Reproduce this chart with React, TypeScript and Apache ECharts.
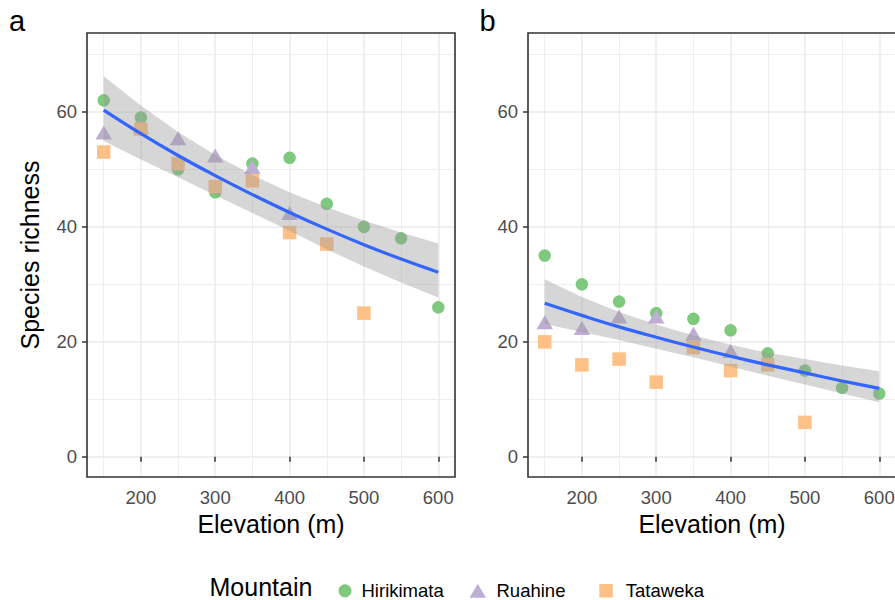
import React, { useEffect, useRef } from 'react';
import * as echarts from 'echarts';

// ---- data ----
const elevation = [150, 200, 250, 300, 350, 400, 450, 500, 550, 600];

// panel a
const hirikimataA = [62, 59, 50, 46, 51, 52, 44, 40, 38, 26];
const ruahineA = [56, 57, 55, 52, 50, 42];
const tatawekaA = [53, 57, 51, 47, 48, 39, 37, 25];
const fitA = [60.3, 56.2, 52.4, 48.9, 45.6, 42.5, 39.6, 36.9, 34.4, 32.1];
const upperA = [66.2, 61.1, 56.5, 52.5, 49.0, 46.0, 43.4, 41.1, 39.0, 37.1];
const lowerA = [54.9, 51.7, 48.6, 45.5, 42.4, 39.3, 36.1, 33.1, 30.3, 27.7];

// panel b
const hirikimataB = [35, 30, 27, 25, 24, 22, 18, 15, 12, 11];
const ruahineB = [23, 22, 24, 24, 21, 18];
const tatawekaB = [20, 16, 17, 13, 19, 15, 16, 6];
const fitB = [26.7, 24.6, 22.6, 20.8, 19.1, 17.5, 16.0, 14.6, 13.2, 11.9];
const upperB = [30.9, 27.8, 25.2, 23.0, 21.1, 19.5, 18.1, 17.0, 15.9, 14.9];
const lowerB = [23.1, 21.7, 20.3, 18.8, 17.3, 15.7, 14.1, 12.6, 11.0, 9.5];

const xTicks = [200, 300, 400, 500, 600];
const yTicks = [0, 20, 40, 60];
const mountains = ['Hirikimata', 'Ruahine', 'Tataweka'];
const panelTags = ['a', 'b'];

const COLORS = { Hirikimata: '#7FC97F', Ruahine: '#BEAED4', Tataweka: '#FDC086' };
const FONT = '"Liberation Sans", Arial, Helvetica, sans-serif';

const GRID_TOP = 33;
const GRID_H = 444;
const GRID_W = 368;
const GRID_LEFTS = [87, 528];

function pts(vals: number[]) {
  return vals.map((v, i) => [elevation[i], v]);
}

function makeAxes(gi: number) {
  const x = {
    type: 'value',
    gridIndex: gi,
    min: 127.5,
    max: 622.5,
    axisLine: { show: false },
    axisTick: { show: true, length: 5, lineStyle: { color: '#333333', width: 1.5 }, customValues: xTicks },
    axisLabel: {
      customValues: xTicks,
      color: '#4d4d4d',
      fontSize: 18.5,
      fontFamily: FONT,
      margin: 10.5,
    },
    splitLine: { show: true, lineStyle: { color: '#ebebeb', width: 1.5 } },
    minorTick: { show: false, splitNumber: 2 },
    minorSplitLine: { show: true, lineStyle: { color: '#ebebeb', width: 0.8 } },
    name: 'Elevation (m)',
    nameLocation: 'middle',
    nameGap: 31.5,
    nameTextStyle: { fontSize: 25, color: '#000000', fontFamily: FONT },
  };
  const y: any = {
    type: 'value',
    gridIndex: gi,
    min: -3.5,
    max: 73.7,
    axisLine: { show: false },
    axisTick: { show: true, length: 5, lineStyle: { color: '#333333', width: 1.5 }, customValues: yTicks },
    axisLabel: {
      customValues: yTicks,
      color: '#4d4d4d',
      fontSize: 18.5,
      fontFamily: FONT,
      margin: 10,
    },
    splitLine: { show: true, lineStyle: { color: '#ebebeb', width: 1.5 } },
    minorTick: { show: false, splitNumber: 2 },
    minorSplitLine: { show: true, lineStyle: { color: '#ebebeb', width: 0.8 } },
  };
  if (gi === 0) {
    y.name = 'Species richness';
    y.nameLocation = 'middle';
    y.nameGap = 45;
    y.nameTextStyle = { fontSize: 25, color: '#000000', fontFamily: FONT };
  }
  return { x, y };
}

function pointSeries(gi: number, name: string, vals: number[]) {
  const base: any = {
    type: 'scatter',
    name,
    xAxisIndex: gi,
    yAxisIndex: gi,
    data: pts(vals),
    z: 2,
    silent: true,
    itemStyle: { color: (COLORS as any)[name], opacity: 1 },
  };
  if (name === 'Hirikimata') {
    base.symbol = 'circle';
    base.symbolSize = 12.5;
  } else if (name === 'Ruahine') {
    base.symbol = 'triangle';
    base.symbolSize = [16.5, 14];
    base.symbolOffset = [0, -2.3];
  } else {
    base.symbol = 'rect';
    base.symbolSize = 13.5;
  }
  return base;
}

function ribbonSeries(gi: number, lo: number[], hi: number[]) {
  return {
    type: 'custom',
    name: 'ci' + gi,
    xAxisIndex: gi,
    yAxisIndex: gi,
    z: 3,
    silent: true,
    clip: true,
    data: [[elevation[0], lo[0]]],
    renderItem: (_params: any, api: any) => {
      const top = elevation.map((x, i) => api.coord([x, hi[i]]));
      const bottom = elevation.map((x, i) => api.coord([x, lo[i]])).reverse();
      return {
        type: 'polygon',
        shape: { points: top.concat(bottom) },
        style: { fill: 'rgba(153,153,153,0.4)' },
      };
    },
  };
}

function fitSeries(gi: number, vals: number[]) {
  return {
    type: 'line',
    name: 'fit' + gi,
    xAxisIndex: gi,
    yAxisIndex: gi,
    z: 4,
    silent: true,
    smooth: 0.4,
    showSymbol: false,
    symbol: 'none',
    data: pts(vals),
    lineStyle: { color: '#3366FF', width: 3.2 },
  };
}

export default function App() {
  const ref = useRef<HTMLDivElement>(null);
  useEffect(() => {
    document.body.style.margin = '0';
    if (!ref.current) return;
    const chart = echarts.init(ref.current, null, { renderer: 'svg' });
    const axA = makeAxes(0);
    const axB = makeAxes(1);
    const legendCommon = {
      orient: 'horizontal',
      top: 576.3,
      selectedMode: false,
      textStyle: { fontSize: 18.5, color: '#000000', fontFamily: FONT },
    };
    const option: any = {
      animation: false,
      backgroundColor: '#ffffff',
      grid: GRID_LEFTS.map((l) => ({
        left: l,
        top: GRID_TOP,
        width: GRID_W,
        height: GRID_H,
        containLabel: false,
        outerBoundsMode: 'none',
      })),
      xAxis: [axA.x, axB.x],
      yAxis: [axA.y, axB.y],
      legend: [
        {
          ...legendCommon,
          left: 333.5,
          itemWidth: 13,
          itemHeight: 13,
          data: [{ name: mountains[0], icon: 'circle' }],
          textStyle: { ...legendCommon.textStyle, padding: [0, 0, 0, 5] },
        },
        {
          ...legendCommon,
          left: 464.5,
          itemWidth: 16.5,
          itemHeight: 14,
          data: [{ name: mountains[1], icon: 'triangle' }],
          textStyle: { ...legendCommon.textStyle, padding: [0, 0, 0, 5.5] },
        },
        {
          ...legendCommon,
          left: 594.3,
          itemWidth: 13.5,
          itemHeight: 13.5,
          data: [{ name: mountains[2], icon: 'rect' }],
          textStyle: { ...legendCommon.textStyle, padding: [0, 0, 0, 8] },
        },
      ],
      series: [
        pointSeries(0, 'Hirikimata', hirikimataA),
        pointSeries(0, 'Ruahine', ruahineA),
        pointSeries(0, 'Tataweka', tatawekaA),
        pointSeries(1, 'Hirikimata', hirikimataB),
        pointSeries(1, 'Ruahine', ruahineB),
        pointSeries(1, 'Tataweka', tatawekaB),
        ribbonSeries(0, lowerA, upperA),
        ribbonSeries(1, lowerB, upperB),
        fitSeries(0, fitA),
        fitSeries(1, fitB),
      ],
      graphic: [
        ...GRID_LEFTS.map((l) => ({
          type: 'rect',
          z: 100,
          silent: true,
          shape: { x: l, y: GRID_TOP, width: GRID_W, height: GRID_H },
          style: { fill: 'none', stroke: '#333333', lineWidth: 1.6 },
        })),
        {
          type: 'text',
          z: 100,
          x: 9,
          y: 20.5,
          style: { text: panelTags[0], fontSize: 29, fontFamily: FONT, fill: '#000000', verticalAlign: 'middle' },
        },
        {
          type: 'text',
          z: 100,
          x: 479.5,
          y: 20.5,
          style: { text: panelTags[1], fontSize: 29, fontFamily: FONT, fill: '#000000', verticalAlign: 'middle' },
        },
        {
          type: 'text',
          z: 100,
          x: 209.5,
          y: 586.5,
          style: {
            text: 'Mountain',
            fontSize: 25,
            fontFamily: FONT,
            fill: '#000000',
            verticalAlign: 'middle',
          },
        },
      ],
    };
    chart.setOption(option);
    return () => chart.dispose();
  }, []);
  return <div ref={ref} style={{ width: 895, height: 600 }} />;
}
